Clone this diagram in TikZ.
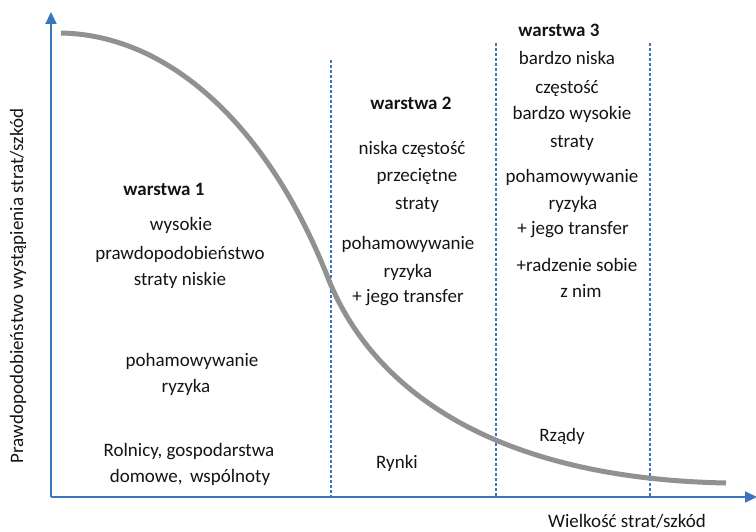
\documentclass[tikz,border=0pt]{standalone}
\usepackage{fontspec}
\setmainfont{Carlito}
\usetikzlibrary{arrows.meta}
\definecolor{axisblue}{RGB}{58,118,192}
\definecolor{curvegray}{RGB}{145,145,145}
\definecolor{txt}{RGB}{20,20,20}
\tikzset{
  axisline/.style={draw=axisblue, line width=2.2pt, -{Triangle[length=12pt,width=11pt]}},
  divider/.style={draw=axisblue, line width=1.1pt, dash pattern=on 3pt off 2pt},
  riskcurve/.style={draw=curvegray, line width=5pt},
  lbl/.style={font=\fontsize{19}{27}\selectfont, text=txt, inner sep=0pt, anchor=base},
  head/.style={lbl, font=\fontsize{19}{27}\selectfont\bfseries},
}
\begin{document}
\begin{tikzpicture}[x=1pt, y=-1pt]
\useasboundingbox (0,0) rectangle (756,532);

% axes
\coordinate (O) at (51,497);
\coordinate (ytip) at (51,12);
\coordinate (xtip) at (757,497);
\draw[axisline] (O) -- (ytip);
\draw[axisline] (O) -- (xtip);

% layer dividers
\coordinate (d1top) at (331,60);  \coordinate (d1bot) at (331,497);
\coordinate (d2top) at (496,43);  \coordinate (d2bot) at (496,497);
\coordinate (d3top) at (650,43);  \coordinate (d3bot) at (650,497);
\draw[divider] (d1top) -- (d1bot);
\draw[divider] (d2top) -- (d2bot);
\draw[divider] (d3top) -- (d3bot);

% loss curve: two cubic pieces meeting at the inflection point
\coordinate (cstart) at (61,33);
\coordinate (cmid) at (328,278);
\coordinate (cend) at (726,483);
\draw[riskcurve] (cstart) .. controls (172,35) and (270,130) .. (cmid)
                          .. controls (365,372) and (470,478) .. (cend);

% axis labels
\node[lbl, anchor=center, rotate=90] (ylab) at (18,286) {Prawdopodobieństwo wystąpienia strat/szkód};
\node[lbl, anchor=center] (xlab) at (627,521) {Wielkość strat/szkód};

% layer 1
\node[head] (w1) at (164,196) {warstwa 1};
\node[lbl] (w1a) at (181,231) {wysokie};
\node[lbl] (w1b) at (180,259) {prawdopodobieństwo};
\node[lbl] (w1c) at (180,286) {straty niskie};
\node[lbl] (w1d) at (192,366) {pohamowywanie};
\node[lbl] (w1e) at (186,392) {ryzyka};
\node[lbl] (w1f) at (189,456) {Rolnicy, gospodarstwa};
\node[lbl] (w1g) at (190,482) {domowe, \,wspólnoty};

% layer 2
\node[head] (w2) at (411,110) {warstwa 2};
\node[lbl] (w2a) at (412,155) {niska częstość};
\node[lbl] (w2b) at (417,182) {przeciętne};
\node[lbl] (w2c) at (417,210) {straty};
\node[lbl] (w2d) at (408,250) {pohamowywanie};
\node[lbl] (w2e) at (408,277) {ryzyka};
\node[lbl] (w2f) at (408,302) {+ jego transfer};
\node[lbl] (w2g) at (397,468) {Rynki};

% layer 3
\node[head] (w3) at (559,37) {warstwa 3};
\node[lbl] (w3a) at (567,65) {bardzo niska};
\node[lbl] (w3b) at (567,94) {częstość};
\node[lbl] (w3c) at (572,120) {bardzo wysokie};
\node[lbl] (w3d) at (572,148) {straty};
\node[lbl] (w3e) at (572,183) {pohamowywanie};
\node[lbl] (w3f) at (573,210) {ryzyka};
\node[lbl] (w3g) at (573,235) {+ jego transfer};
\node[lbl] (w3h) at (577,272) {+radzenie sobie};
\node[lbl] (w3i) at (581,298) {z nim};
\node[lbl] (w3j) at (562,441) {Rządy};
\end{tikzpicture}
\end{document}
